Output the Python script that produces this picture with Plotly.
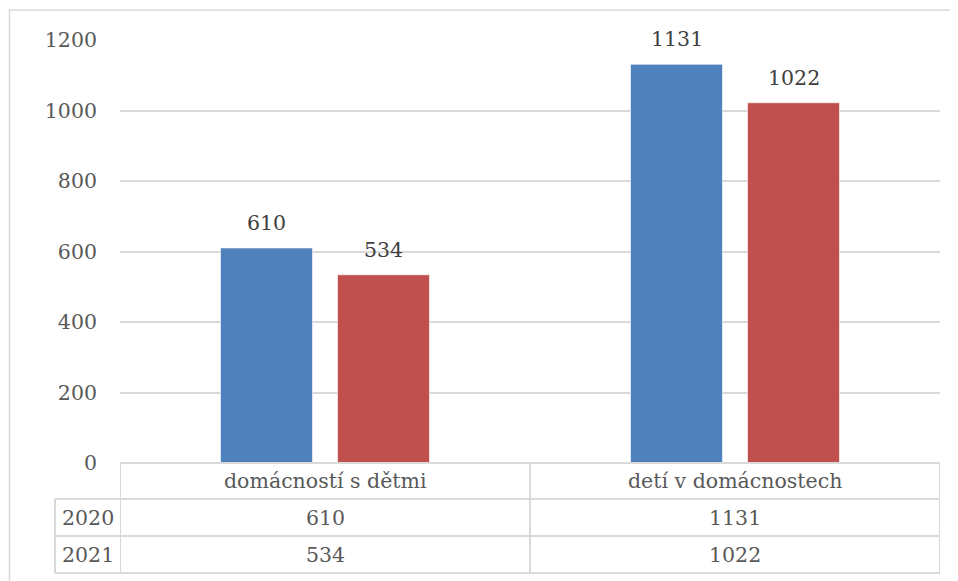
import plotly.graph_objects as go

categories = ["domácností s dětmi", "detí v domácnostech"]
series_names = ["2020", "2021"]
values_2020 = [610, 1131]
values_2021 = [534, 1022]
y_ticks = [0, 200, 400, 600, 800, 1000, 1200]

FONT = "DejaVu Serif"
FS = 20.5
TXT = "#595959"
LINE = "#D9D9D9"
colors = ["#4F81BD", "#C0504D"]
series_values = [values_2020, values_2021]
bar_shift = [-58.5, 58.5]

fig = go.Figure()
for name, vals, col in zip(series_names, series_values, colors):
    fig.add_trace(go.Bar(
        x=list(range(len(categories))), y=vals, name=name,
        marker=dict(color=col, line=dict(color="rgba(255,255,255,0.6)", width=1)),
        cliponaxis=False,
    ))

annotations = []
# data labels above bars
for s, (vals, dx) in enumerate(zip(series_values, bar_shift)):
    for i, v in enumerate(vals):
        annotations.append(dict(x=i, y=v, xref="x", yref="y", text=str(v), showarrow=False,
                                xshift=dx, yshift=25, xanchor="center", yanchor="middle",
                                font=dict(family=FONT, size=FS, color="#404040")))

shapes = []
# outer chart border (left + top visible)
shapes.append(dict(type="rect", xref="paper", yref="paper",
                   x0=-0.1348, x1=1.2, y0=-0.5, y1=1.0709,
                   line=dict(color=LINE, width=1.5)))
row_y = [0, -0.0851, -0.1726, -0.2600]
shapes.append(dict(type="line", xref="x", yref="paper", x0=-0.5, x1=1.5, y0=0, y1=0,
                   line=dict(color=LINE, width=2)))
for yy in row_y[1:]:
    shapes.append(dict(type="line", xref="paper", yref="paper", x0=-0.0793, x1=1.0, y0=yy, y1=yy,
                       line=dict(color=LINE, width=2)))
shapes.append(dict(type="line", xref="paper", yref="paper", x0=-0.0793, x1=-0.0793,
                   y0=row_y[1], y1=row_y[3], line=dict(color=LINE, width=2)))
for xv in [-0.5, 0.5, 1.5]:
    shapes.append(dict(type="line", xref="x", yref="paper", x0=xv, x1=xv,
                       y0=0, y1=row_y[3], line=dict(color=LINE, width=2)))

row_centers = [-0.0426, -0.1300, -0.2175]
for i, c in enumerate(categories):
    annotations.append(dict(x=i, y=row_centers[0], xref="x", yref="paper", text=c,
                            showarrow=False, xanchor="center", yanchor="middle",
                            font=dict(family=FONT, size=FS, color=TXT)))
for r, (name, vals) in enumerate(zip(series_names, series_values)):
    annotations.append(dict(x=-0.0396, y=row_centers[r + 1], xref="paper", yref="paper", text=name,
                            showarrow=False, xanchor="center", yanchor="middle",
                            font=dict(family=FONT, size=FS, color=TXT)))
    for i, v in enumerate(vals):
        annotations.append(dict(x=i, y=row_centers[r + 1], xref="x", yref="paper", text=str(v),
                                showarrow=False, xanchor="center", yanchor="middle",
                                font=dict(family=FONT, size=FS, color=TXT)))

fig.update_layout(
    width=950, height=573,
    margin=dict(l=112, r=18, t=32, b=118),
    paper_bgcolor="white", plot_bgcolor="white",
    barmode="group", bargap=0.4293, bargroupgap=0.2137,
    showlegend=False,
    shapes=shapes, annotations=annotations,
    font=dict(family=FONT, size=FS, color=TXT),
)
fig.update_xaxes(range=[-0.5, 1.5], showticklabels=False, showgrid=False, zeroline=False,
                 showline=False, fixedrange=True)
fig.update_yaxes(range=[0, 1200], tickvals=y_ticks, showgrid=True, gridcolor=LINE, gridwidth=1.5,
                 zeroline=False, showline=False, ticklabelstandoff=22,
                 tickfont=dict(family=FONT, size=FS, color=TXT))

fig.write_html("out.html")
